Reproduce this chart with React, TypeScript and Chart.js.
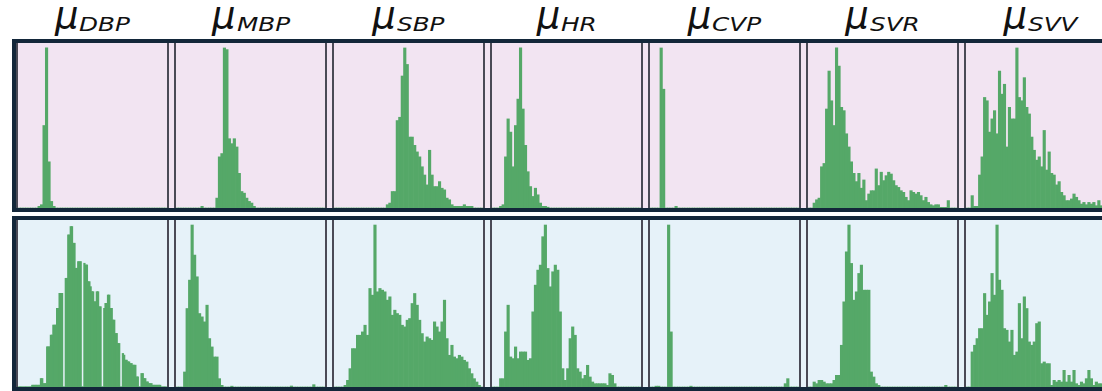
import React, { useEffect, useRef } from "react";
import { Chart, registerables } from "chart.js";

Chart.register(...registerables);

// Panel titles (subscripts of mu)
const titles = ["DBP", "MBP", "SBP", "HR", "CVP", "SVR", "SVV"];

// 60-bin histograms, bar heights as % of panel height
const dbpTop = [0,0,0,0,0,0,0,0,1,2, 50,97,28,4,1,0,0,0,0,0, 0,0,0,0,0,0,0,0,0,0, 0,0,0,0,0,0,0,0,0,0, 0,0,0,0,0,0,0,0,0,0, 0,0,0,0,0,0,0,0,0,0];
const mbpTop = [0,0,0,0,0,0,0,0,0,0, 1,0,0,0,0,0,6,31,33,97, 96,42,39,42,37,21,10,9,6,4, 3,1,0,0,0,0,0,0,0,0, 0,0,0,0,0,0,0,0,0,0, 0,0,0,0,0,0,0,0,0,0];
const sbpTop = [0,0,0,0,0,0,0,0,0,0, 0,0,0,0,0,0,0,0,0,0, 0,2,3,10,10,53,55,80,97,87, 43,43,38,34,31,25,20,14,35,20, 13,13,16,12,11,6,5,2,1,1, 1,1,2,1,1,1,0,0,0,0];
const hrTop = [0,0,0,1,2,31,54,46,25,50, 66,97,60,38,22,13,7,12,8,3, 1,1,0.5,0,0,0,0,0,0,0, 0,0,0,0,0,0,0,0,0,0, 0,0,0,0,0,0,0,0,0,0, 0,0,0,0,0,0,0,0,0,0];
const cvpTop = [0,0,0,0,97,72,0,0,0,0, 1,0,0,0,0,0,0,0,0,0, 0,0,0,0,0,0,0,0,0,0, 0,0,0,0,0,0,0,0,0,0, 0,0,0,0,0,0,0,0,0,0, 0,0,0,0,0,0,0,0,0,0];
const svrTop = [0,0,3,5,6,25,27,60,83,65, 50,97,86,61,59,45,37,28,21,16, 21,12,17,4.5,8.5,10.5,10.5,23.7,13.6,21.7, 16.6,19.6,21.7,20.6,16.6,13.6,12.5,10.5,9.5,6.5, 4.5,10.5,9.5,8.5,9.5,7.5,4.5,6.5,3.4,2, 1.4,2,2,0.4,0.4,0.4,4.5,0,0,0];
const svvTop = [0,0,7.5,1,1,20,31,67,65,46, 54,59,45,83,69,75,37,61,54,54, 97,67,65,79,61,57,43,35,29,31, 25,47,23,34,21,20,14,16,9.5,7.5, 4.5,4.5,5.5,8.5,6.5,4.5,2.4,3.4,2,3.4, 2.4,3.4,1.4,4.5,1.4,2,1,1,0.5,0.5];

// bottom DBP uses 120 half-width bins (it shows thin empty bins)
const dbpBottom = [
  0,0,0,0,0,0,0,0,0,0, 0,1,1,1,1,1,1,1,5,5,
  2,2,2,24,24,24,31,31,37,37, 37,47,47,56,56,56,0,0,65,65,
  91,91,96,96,86,86,71,71,75,75, 75,0,0,74,73,73,63,63,60,57,
  57,51,51,57,57,48,48,0,0,47, 50,50,55,55,47,47,40,40,32,32,
  26,26,0,0,20,19,16,16,15,15, 14,14,13,13,13,6,6,0,0,8,
  8,5,5,3,3,2,2,2,1,1, 1,1,1,1,1,0,0,0,0,0,
];
const mbpBottom = [0,0,0,9,47,64,97,79,66,44, 42,39,49,29,24,18,18,5,1,0, 0,0,0.5,0,0,0,0,0,0,0, 0,0,0,0,0,0,0,0,0,0, 0,0,0,0,0,0,0.6,0,0,0, 0,0,0,0,0,1.4,0,0,0,0];
const sbpBottom = [0,0,0,0,1,4,11,23,23,31, 31,33,37,31,59,55,97,57,59,58, 57,52,54,43,46,44,43,37,36,40, 41,50,56,49,40,32,27,30,29,28, 39,36,33,39,52,29,19,25,18,17, 19,18,16,15,11,8,5,3,1,0];
const hrBottom = [0,0,0,5,5,33,49,18,17,24, 17,21,21,21,16,17,45,61,70,73, 90,97,71,60,69,73,70,45,11,4, 11,29,36,31,11,9,5,7,13,6, 3,2,2,2,2,2,1,8,7,2, 0,0,0,0,0,0,0,0,0,0];
const cvpBottom = [0,0,0.5,0.5,0,0,0,97,33,0, 0,0,0,0,0,0,0.5,0,0,0, 0,0,0,0,0,0,0,0,0,0, 0,0,0,0,0,0,0,0,0,0, 0,0,0,0,0,0,0,0,0,0, 0,0,0,0,2,5,0,0,0,0];
const svrBottom = [0,0,3,2,4,4,3,2,2,2, 4,7,7,25,51,81,97,74,52,57, 68,73,58,58,58,9,6,2,1,0, 0,0,0,0,0,0,0,0,0,0, 0,0,0,0,0,0,0,0,0,0, 0,0,0,0,0,1,0,0,0,0];
const svvBottom = [0,0,21,25,29,35,35,56,43,51, 68,55,97,64,58,35,34,27,34,19, 21,50,29,54,47,27,25,27,38,39, 14,15,14,14,1,4,3,4,3,10, 3,7,3,10,2,1,3,2,5,10, 5,1,3,2,2,1,1,1,1,1];

const topRow = [dbpTop, mbpTop, sbpTop, hrTop, cvpTop, svrTop, svvTop];
const bottomRow = [dbpBottom, mbpBottom, sbpBottom, hrBottom, cvpBottom, svrBottom, svvBottom];

const BAR_COLOR = "#55a868";
const PINK = "#f2e4f2";
const BLUE = "#e6f2f9";
const FRAME = "#13273a";
const LINE = "#4a4a56";

const PITCH = 158;
const PLOT_W = 149;

function Hist({ values, height }: { values: number[]; height: number }) {
  const ref = useRef<HTMLCanvasElement>(null);
  useEffect(() => {
    const labels = values.map((_, i) => String(i));
    const fine = values.length > 60;
    const chart = new Chart(ref.current as HTMLCanvasElement, {
      type: "bar",
      data: {
        labels,
        datasets: [
          {
            data: values,
            backgroundColor: BAR_COLOR,
            borderWidth: 0,
            barPercentage: 1,
            categoryPercentage: 1,
            inflateAmount: fine ? 0.5 : "auto",
          } as any,
        ],
      },
      options: {
        animation: false,
        responsive: false,
        maintainAspectRatio: false,
        events: [],
        layout: { padding: 0 },
        plugins: {
          legend: { display: false },
          tooltip: { enabled: false },
          title: { display: false },
        },
        scales: {
          x: { display: false },
          y: { display: false, min: 0, max: 100 },
        },
      },
    });
    return () => chart.destroy();
  }, [values, height]);
  return (
    <canvas
      ref={ref}
      width={PLOT_W}
      height={height}
      style={{ display: "block", width: PLOT_W, height }}
    />
  );
}

function Row({ data, top, height, bg }: { data: number[][]; top: number; height: number; bg: string }) {
  const inner = height - 8;
  return (
    <div
      style={{
        position: "absolute",
        left: 12,
        top,
        width: 1130,
        height,
        boxSizing: "border-box",
        border: `4px solid ${FRAME}`,
        background: bg,
      }}
    >
      {data.map((vals, k) => (
        <React.Fragment key={k}>
          <div style={{ position: "absolute", left: k * PITCH, top: 0, width: 2, height: inner, background: LINE }} />
          <div style={{ position: "absolute", left: k * PITCH + 2, top: 0 }}>
            <Hist values={vals} height={inner} />
          </div>
          <div style={{ position: "absolute", left: k * PITCH + 2 + PLOT_W, top: 0, width: 2, height: inner, background: LINE }} />
        </React.Fragment>
      ))}
    </div>
  );
}

const SUB_SIZE = 19;
const SUB_STRETCH = 1.3;

export default function App() {
  return (
    <div
      style={{
        position: "absolute",
        left: 0,
        top: 0,
        width: 1102,
        height: 391,
        overflow: "hidden",
        background: "#ffffff",
      }}
    >
      {titles.map((t, k) => {
        const natural = t.length * 0.67 * SUB_SIZE;
        return (
          <div
            key={t}
            style={{
              position: "absolute",
              left: 18 + k * PITCH + PLOT_W / 2 - 100,
              top: -2,
              width: 200,
              textAlign: "center",
              fontFamily: "'DejaVu Sans', sans-serif",
              fontStyle: "italic",
              fontSize: 37,
              lineHeight: "36px",
              color: "#111111",
              whiteSpace: "nowrap",
            }}
          >
            μ
            <span
              style={{
                display: "inline-block",
                fontSize: SUB_SIZE,
                lineHeight: "20px",
                position: "relative",
                top: 3,
                transform: `scaleX(${SUB_STRETCH})`,
                transformOrigin: "left center",
                marginRight: natural * (SUB_STRETCH - 1),
                marginLeft: 1,
              }}
            >
              {t}
            </span>
          </div>
        );
      })}
      <Row data={topRow} top={39} height={173} bg={PINK} />
      <Row data={bottomRow} top={216} height={175} bg={BLUE} />
    </div>
  );
}
